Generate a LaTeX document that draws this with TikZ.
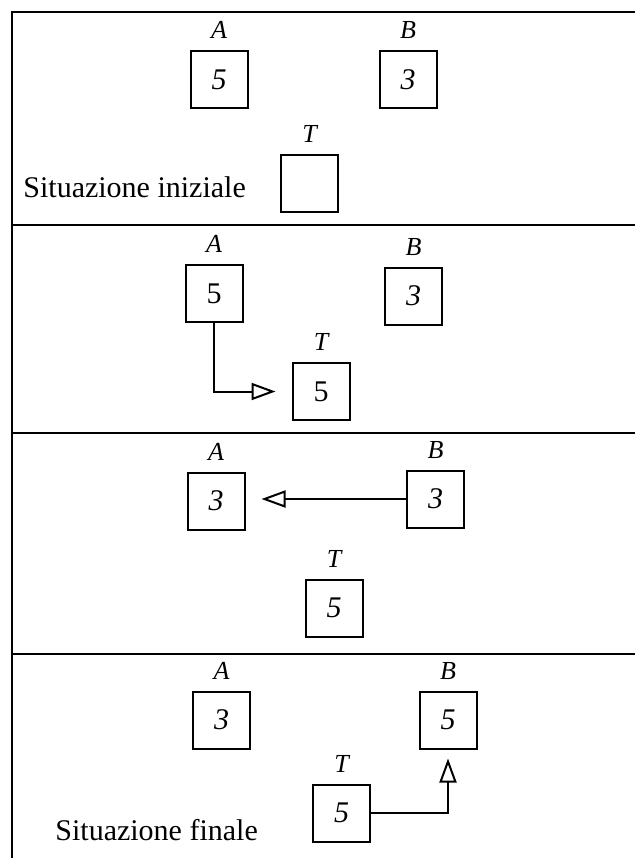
\documentclass[tikz,border=0pt]{standalone}
\usepackage{fontspec}
\setmainfont{Liberation Serif}
\usetikzlibrary{positioning, arrows.meta}

\tikzset{
  zelle/.style={draw, line width=1pt, minimum width=28.5pt, minimum height=28.5pt,
    inner sep=0pt, font=\fontsize{15}{17}\selectfont\itshape},
  lbl/.style={inner sep=0pt, yshift=5.5pt, font=\fontsize{13}{15}\selectfont\itshape},
  txt/.style={anchor=base west, inner sep=0pt, font=\fontsize{15}{17}\selectfont},
  pfeil/.style={-{Triangle[open, length=12pt, width=8.5pt]}, line width=1pt},
}

\begin{document}
\begin{tikzpicture}[x=0.5pt, y=-0.5pt]
  \useasboundingbox (0,0) rectangle (635,858);
  \clip (0,0) rectangle (635,858);

  % Rahmen und Trennlinien
  \draw[line width=1.2pt] (660,12) -- (12,12) -- (12,870);
  \draw[line width=1.2pt] (12,225) -- (660,225);
  \draw[line width=1.2pt] (12,433) -- (660,433);
  \draw[line width=1.2pt] (12,654) -- (660,654);

  % Schritt 0
  \node[zelle, label={[lbl]above:A}] (a0) at (219,79.5) {5};
  \node[zelle, label={[lbl]above:B}] (b0) at (408,79.5) {3};
  \node[zelle, label={[lbl]above:T}] (t0) at (309.5,183.5) {};
  \node[txt] (start) at (23,197) {Situazione iniziale};

  % Schritt 1: T = A
  \node[zelle, label={[lbl]above:A}] (a1) at (214,293.5) {\upshape 5};
  \node[zelle, label={[lbl]above:B}] (b1) at (413.5,296) {3};
  \node[zelle, label={[lbl]above:T}] (t1) at (321,391.5) {\upshape 5};
  \draw[pfeil, shorten >=8pt] (a1.south) |- (t1.west);

  % Schritt 2: A = B
  \node[zelle, label={[lbl]above:A}] (a2) at (216,501) {3};
  \node[zelle, label={[lbl]above:B}] (b2) at (435.5,499) {3};
  \node[zelle, label={[lbl]above:T}] (t2) at (334,608) {5};
  \draw[pfeil, shorten >=8pt] (b2.west) -- (b2.west -| a2.east);

  % Schritt 3: B = T
  \node[zelle, label={[lbl]above:A}] (a3) at (221.5,720) {3};
  \node[zelle, label={[lbl]above:B}] (b3) at (448,720) {5};
  \node[zelle, label={[lbl]above:T}] (t3) at (341.5,813) {5};
  \draw[pfeil, shorten >=4.5pt] (t3.east) -| (b3.south);
  \node[txt] (ende) at (55,840) {Situazione finale};
\end{tikzpicture}
\end{document}
